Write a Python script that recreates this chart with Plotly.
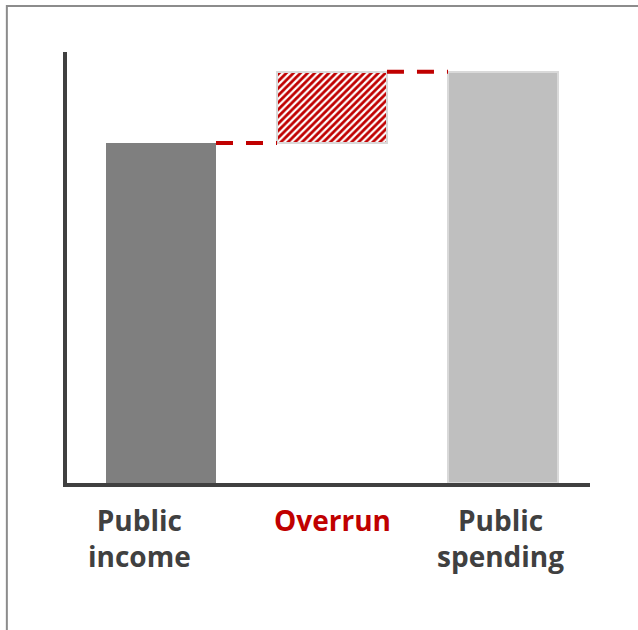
import plotly.graph_objects as go

categories = ["Public income", "Overrun", "Public spending"]
labels = ["Public<br>income", "Overrun", "Public<br>spending"]
label_colors = ["#404040", "#c00000", "#404040"]
income = 100
overrun = 21
spending = income + overrun

xs = [0, 1, 2]
bw = 0.643

fig = go.Figure()
# Public income
fig.add_bar(x=[xs[0]], y=[income], base=[0], width=bw,
            marker=dict(color="#7f7f7f", line=dict(width=0)))
# Overrun (floating, hatched)
fig.add_bar(x=[xs[1]], y=[overrun], base=[income], width=bw,
            marker=dict(color="white",
                        line=dict(color="#d9d9d9", width=2),
                        pattern=dict(shape="/", fgcolor="#c00000", bgcolor="white",
                                     size=5, solidity=0.55, fgopacity=1)))
# Public spending
fig.add_bar(x=[xs[2]], y=[spending], base=[0], width=bw,
            marker=dict(color="#bfbfbf", line=dict(color="#d9d9d9", width=2)))

# connectors
fig.add_scatter(x=[xs[0] + bw / 2, xs[1] - bw / 2], y=[income, income], mode="lines",
                line=dict(color="#c00000", width=4, dash="17px,13px"))
fig.add_scatter(x=[xs[1] + bw / 2, xs[2] - bw / 2], y=[spending, spending], mode="lines",
                line=dict(color="#c00000", width=4, dash="17px,13px"))

shifts = [-22, 0, -2]
for i in range(3):
    fig.add_annotation(x=xs[i], y=-0.036, xref="x", yref="paper",
                       text="<b>" + labels[i] + "</b>",
                       showarrow=False, xshift=shifts[i], yanchor="top",
                       font=dict(family="Open Sans", size=28, color=label_colors[i]))

# outer frame
fig.add_shape(type="rect", xref="paper", yref="paper", x0=-0.115, x1=1.2, y0=-0.4, y1=1.1067,
              line=dict(color="#8c8c8c", width=2), layer="below")

fig.update_layout(
    width=638, height=630,
    margin=dict(l=67, r=48, t=52, b=147),
    plot_bgcolor="white", paper_bgcolor="white",
    showlegend=False, bargap=0,
    xaxis=dict(range=[-0.550, 2.509], showticklabels=False, showgrid=False, zeroline=False,
               showline=True, linecolor="#404040", linewidth=4, ticks=""),
    yaxis=dict(range=[0, 126.8], showticklabels=False, showgrid=False, zeroline=False,
               showline=True, linecolor="#404040", linewidth=4, ticks=""),
)

fig.write_html("out.html", config={"displayModeBar": False},
               post_script="document.body.style.margin='0';document.body.style.overflow='hidden';")
